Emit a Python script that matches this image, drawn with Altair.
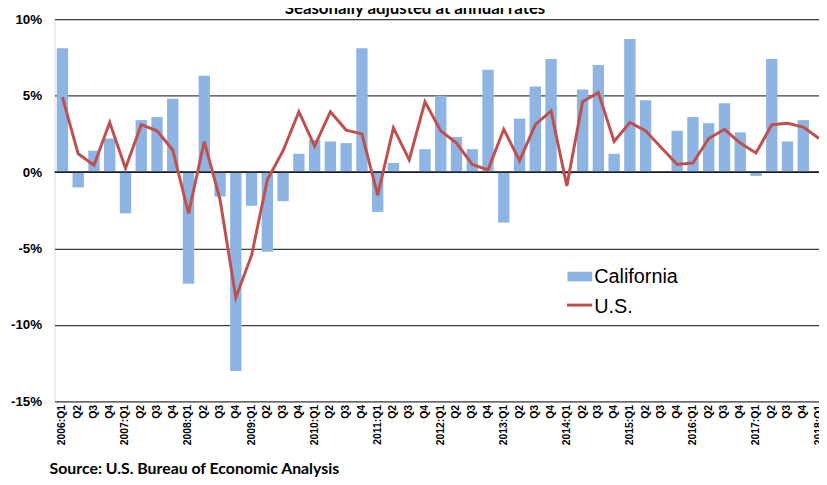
import altair as alt
import pandas as pd

years = list(range(2006, 2019))
quarters = []
for y in years:
    for q in range(1, 5):
        if y == 2018 and q > 1:
            break
        quarters.append(f"{y}:Q{q}")

california = [
    8.1, -1.0, 1.4, 2.2,
    -2.7, 3.4, 3.6, 4.8,
    -7.3, 6.3, -1.6, -13.0,
    -2.2, -5.2, -1.9, 1.2,
    2.1, 2.0, 1.9, 8.1,
    -2.6, 0.6, 0.0, 1.5,
    5.0, 2.3, 1.5, 6.7,
    -3.3, 3.5, 5.6, 7.4,
    -0.13, 5.4, 7.0, 1.2,
    8.7, 4.7, 0.0, 2.7,
    3.6, 3.2, 4.5, 2.6,
    -0.25, 7.4, 2.0, 3.4,
    None,
]

us = [
    4.9, 1.2, 0.45, 3.25,
    0.25, 3.1, 2.7, 1.45,
    -2.7, 2.0, -1.8, -8.2,
    -5.45, -0.5, 1.4, 3.95,
    1.7, 3.95, 2.75, 2.5,
    -1.5, 2.9, 0.8, 4.6,
    2.7, 1.9, 0.5, 0.15,
    2.8, 0.75, 3.1, 4.0,
    -0.9, 4.6, 5.2, 2.0,
    3.25, 2.7, 1.6, 0.5,
    0.6, 2.2, 2.8, 1.9,
    1.25, 3.1, 3.2, 2.95,
    2.2,
]

legend_labels = ["California", "U.S."]
title_text = "Seasonally adjusted at annual rates"
source_text = "Source: U.S. Bureau of Economic Analysis"

df = pd.DataFrame({"quarter": quarters, "California": california, "US": us})

BAR = "#8EB4E3"
LINE = "#C0504D"
FONT = "Liberation Sans"

xscale = alt.Scale(domain=quarters, range=[0, 780], paddingInner=0.28, paddingOuter=0.14)
yscale = alt.Scale(domain=[-15, 10], nice=False)

xaxis = alt.Axis(
    title=None,
    labelAngle=-90,
    labelFont=FONT,
    labelFontWeight="bold",
    labelFontSize=10.5,
    labelColor="#000000",
    labelPadding=3,
    ticks=False,
    domain=False,
    grid=False,
    labelOverlap=False,
    labelExpr="indexof(datum.value, 'Q1') >= 0 ? datum.value : substring(datum.value, 5)",
)
yaxis = alt.Axis(
    title=None,
    values=[-15, -10, -5, 0, 5, 10],
    labelExpr="datum.value + '%'",
    labelFont=FONT,
    labelFontWeight="bold",
    labelFontSize=13.5,
    labelColor="#000000",
    labelPadding=13,
    ticks=False,
    domain=False,
    grid=True,
    gridColor="#3c3c3c",
    gridWidth=1.3,
)

base = alt.Chart(df)

bars = base.mark_bar(color=BAR).encode(
    x=alt.X("quarter:N", scale=xscale, axis=xaxis, sort=quarters),
    y=alt.Y("California:Q", scale=yscale, axis=yaxis),
)

zero = alt.Chart(pd.DataFrame({"v": [0]})).mark_rule(color="#000000", strokeWidth=1.5).encode(
    y=alt.Y("v:Q", scale=yscale)
)

line = base.mark_line(color=LINE, strokeWidth=3).encode(
    x=alt.X("quarter:N", scale=xscale, sort=quarters),
    y=alt.Y("US:Q", scale=yscale),
)

leg_df = pd.DataFrame({"label": legend_labels})

leg_rect = alt.Chart(leg_df.iloc[:1]).mark_rect(color=BAR).encode(
    x=alt.value(518), x2=alt.value(543), y=alt.value(255), y2=alt.value(264.7)
)
leg_line = alt.Chart(leg_df.iloc[1:]).mark_rule(color=LINE, strokeWidth=3).encode(
    x=alt.value(517.5), x2=alt.value(543), y=alt.value(288.7)
)
leg_text1 = alt.Chart(leg_df.iloc[:1]).mark_text(
    font=FONT, fontSize=20, align="left", baseline="alphabetic", color="#000000"
).encode(text="label:N", x=alt.value(545), y=alt.value(266.3))
leg_text2 = alt.Chart(leg_df.iloc[1:]).mark_text(
    font=FONT, fontSize=20, align="left", baseline="alphabetic", color="#000000"
).encode(text="label:N", x=alt.value(545), y=alt.value(296.3))

title = alt.Chart(pd.DataFrame({"t": [title_text]})).mark_text(
    font="Lato", fontSize=17, fontWeight="bold", align="center", baseline="alphabetic", color="#000000"
).encode(text="t:N", x=alt.value(364), y=alt.value(-5))

source = alt.Chart(pd.DataFrame({"t": [source_text]})).mark_text(
    font="Lato", fontSize=16, fontWeight="bold", align="left", baseline="alphabetic", color="#000000"
).encode(text="t:N", x=alt.value(-5), y=alt.value(459))

chart = alt.layer(
    bars, zero, line, leg_rect, leg_line, leg_text1, leg_text2, title, source
).properties(
    width=772,
    height=386,
    autosize=alt.AutoSizeParams(type="none"),
    padding={"left": 47, "top": 9, "right": 0, "bottom": 80},
).configure_view(stroke=None).configure(background="#ffffff")

chart.save("out.html", embed_options={"renderer": "svg", "actions": False})
